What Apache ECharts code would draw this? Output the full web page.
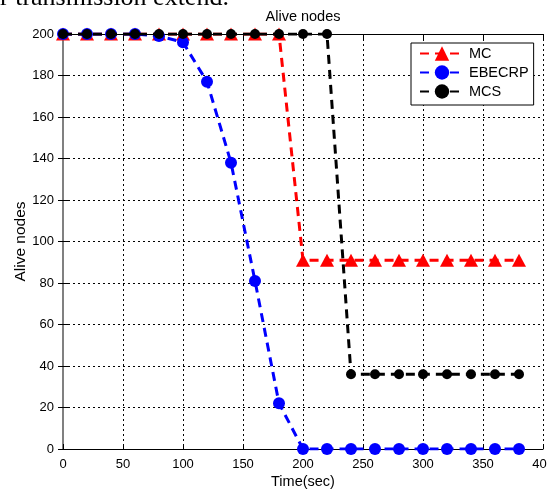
<!DOCTYPE html>
<html><head><meta charset="utf-8">
<script src="https://cdn.jsdelivr.net/npm/echarts@6/dist/echarts.min.js"></script>
<style>html,body{margin:0;padding:0;background:#fff}#c{width:547px;height:491px}</style>
</head><body><div id="c"></div>
<script>
const times = [0,20,40,60,80,100,120,140,160,180,200,220,240,260,280,300,320,340,360,380];
const mcValues = [200,200,200,200,200,200,200,200,200,200,91,91,91,91,91,91,91,91,91,91];
const ebecrpValues = [200,200,200,200,199,196,177,138,81,22,0,0,0,0,0,0,0,0,0,0];
const mcsValues = [200,200,200,200,200,200,200,200,200,200,200,200,36,36,36,36,36,36,36,36];
const xTickLabels = [0,50,100,150,200,250,300,350,400];
const yTickLabels = [0,20,40,60,80,100,120,140,160,180,200];
const seriesNames = ['MC','EBECRP','MCS'];

const FONT = '"Liberation Sans", Arial, Helvetica, sans-serif';
const pairs = vals => times.map((t, i) => [t, vals[i]]);
const xMin = xTickLabels[0], xMax = xTickLabels[xTickLabels.length-1];
const xInt = xTickLabels[1] - xTickLabels[0];
const yMin = yTickLabels[0], yMax = yTickLabels[yTickLabels.length-1];
const yInt = yTickLabels[1] - yTickLabels[0];

const grid = {left: 63, right: 4, top: 34, bottom: 42, containLabel: false, outerBoundsMode: 'none'};
const dotted = {show: true, lineStyle: {color: '#000', width: 1, type: [2, 3]}};

const chart = echarts.init(document.getElementById('c'), null, {renderer: 'canvas'});
chart.setOption({
  animation: false,
  backgroundColor: '#fff',
  textStyle: {fontFamily: FONT},
  grid: grid,
  graphic: [
    {type: 'text', left: 0, top: -15, silent: true,
     style: {text: 'r transmission extend.', font: '26px "Liberation Serif", "Times New Roman", serif', fill: '#000'}},
    {type: 'text', x: 303, y: 17, silent: true,
     style: {text: 'Alive nodes', font: '14.5px ' + FONT, fill: '#000', align: 'center', verticalAlign: 'middle'}}
  ],
  legend: {
    data: seriesNames,
    orient: 'vertical',
    left: 411, top: 43,
    padding: [3, 5, 6, 8],
    itemWidth: 44, itemHeight: 18, itemGap: 4,
    backgroundColor: '#fff',
    borderColor: '#000', borderWidth: 1, borderRadius: 0,
    textStyle: {fontSize: 14.5, color: '#000', fontFamily: FONT}
  },
  xAxis: [{
    type: 'value', min: xMin, max: xMax, interval: xInt,
    name: 'Time(sec)', nameLocation: 'middle', nameGap: 25, nameMoveOverlap: false,
    nameTextStyle: {fontSize: 14.5, color: '#000', fontFamily: FONT, verticalAlign: 'top'},
    axisLine: {show: true, onZero: false, lineStyle: {color: '#000', width: 1}},
    axisTick: {show: true, inside: true, length: 5, lineStyle: {color: '#000'}},
    axisLabel: {fontSize: 13, color: '#000', margin: 9, fontFamily: FONT, hideOverlap: false},
    splitLine: dotted
  }, {
    type: 'value', min: xMin, max: xMax, interval: xInt, position: 'top',
    axisLine: {show: true, onZero: false, lineStyle: {color: '#000', width: 1}},
    axisTick: {show: true, inside: true, length: 5, lineStyle: {color: '#000'}},
    axisLabel: {show: false}, splitLine: {show: false}
  }],
  yAxis: [{
    type: 'value', min: yMin, max: yMax, interval: yInt,
    name: 'Alive nodes', nameLocation: 'middle', nameRotate: 90, nameGap: 34, nameMoveOverlap: false,
    nameTextStyle: {fontSize: 15.5, color: '#000', fontFamily: FONT},
    axisLine: {show: true, onZero: false, lineStyle: {color: '#808080', width: 2}},
    axisTick: {show: true, inside: true, length: 5, lineStyle: {color: '#000'}},
    axisLabel: {fontSize: 13, color: '#000', margin: 9, fontFamily: FONT},
    splitLine: dotted
  }, {
    type: 'value', min: yMin, max: yMax, interval: yInt, position: 'right',
    axisLine: {show: false},
    axisTick: {show: true, inside: true, length: 5, lineStyle: {color: '#000'}},
    axisLabel: {show: false}, splitLine: {show: false}
  }],
  series: [
    {name: seriesNames[0], type: 'line', data: pairs(mcValues), z: 2,
     symbol: 'triangle', symbolSize: [14, 13],
     itemStyle: {color: '#ff0000', borderWidth: 0},
     lineStyle: {color: '#ff0000', width: 3, type: [9, 6]}},
    {name: seriesNames[1], type: 'line', data: pairs(ebecrpValues), z: 3,
     symbol: 'circle', symbolSize: 12,
     itemStyle: {color: '#0000ff', borderWidth: 0},
     lineStyle: {color: '#0000ff', width: 3, type: [9, 6]}},
    {name: seriesNames[2], type: 'line', data: pairs(mcsValues), z: 4,
     symbol: 'circle', symbolSize: 10,
     itemStyle: {color: '#000000', borderWidth: 0},
     lineStyle: {color: '#000000', width: 3, type: [9, 6]}}
  ]
});
</script></body></html>
